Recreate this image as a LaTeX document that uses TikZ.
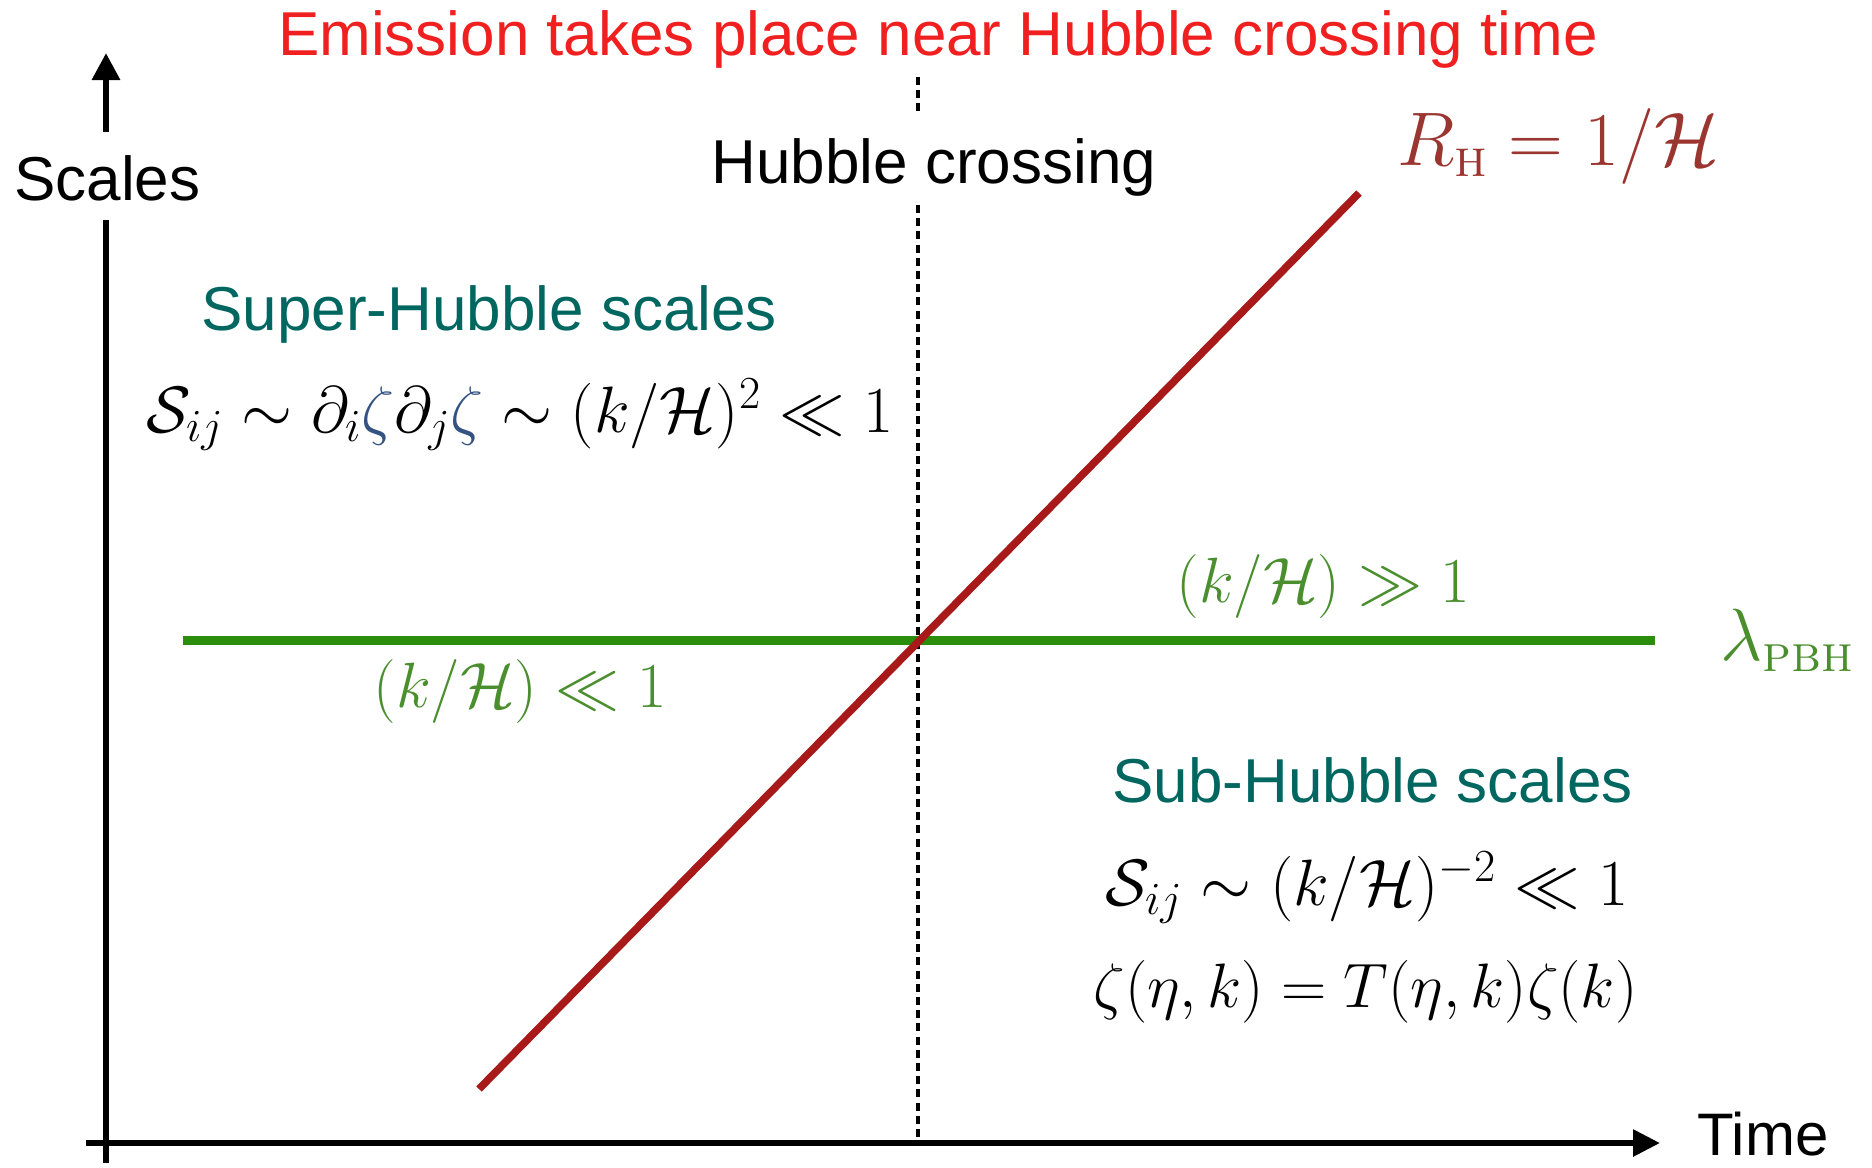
\RequirePackage{fix-cm}
\documentclass[tikz,border=0pt]{standalone}
\usepackage{amsmath}
\usepackage{fontspec}
\setsansfont{Liberation Sans}
\usetikzlibrary{arrows.meta}
\definecolor{titlered}{RGB}{240,32,32}
\definecolor{tealtxt}{RGB}{0,102,96}
\definecolor{rhred}{RGB}{155,53,48}
\definecolor{linered}{RGB}{168,26,26}
\definecolor{linegreen}{RGB}{42,142,12}
\definecolor{greentxt}{RGB}{74,142,46}
\definecolor{zetablue}{RGB}{52,82,130}
\begin{document}
\begin{tikzpicture}[x=0.5pt,y=-0.5pt,
  txt/.style={inner sep=0pt,anchor=base west},
  sans/.style={txt,font=\fontsize{31}{37}\selectfont\sffamily},
  mth/.style={txt,font=\fontsize{32}{38}\selectfont},
  axis/.style={line width=3.1pt},
  dotline/.style={line width=1.7pt,dash pattern=on 4pt off 2.6pt}]
\useasboundingbox (0,0) rectangle (1872,1167);
% coordinates
\coordinate (ytip) at (106,53);
\coordinate (ytop) at (106,132);
\coordinate (ybot1) at (106,220);
\coordinate (ybot2) at (106,1163);
\coordinate (xl) at (86,1143);
\coordinate (xr) at (1660,1143);
\coordinate (dt1) at (918,77);
\coordinate (db1) at (918,114);
\coordinate (dt2) at (918,205);
\coordinate (db2) at (918,1143);
\coordinate (rb) at (479,1089);
\coordinate (rt) at (1359,193);
\coordinate (gl) at (183,640);
\coordinate (gr) at (1655,640);
% axes
\draw[axis,-{Triangle[length=13.5pt,width=13.5pt]}] (ytop) -- (ytip);
\draw[axis] (ybot1) -- (ybot2);
\draw[axis,line width=2.9pt,-{Triangle[length=13.5pt,width=13pt]}] (xl) -- (xr);
% dotted
\draw[dotline] (dt1) -- (db1);
\draw[dotline] (dt2) -- (db2);
% lines
\draw[linegreen,line width=4.5pt] (gl) -- (gr);
\draw[linered,line width=3.8pt] (rb) -- (rt);
% texts
\node[sans,anchor=base,text=titlered] (title) at (938,55) {Emission takes place near Hubble crossing time};
\node[sans] (scales) at (14,200) {Scales};
\node[sans,anchor=base] (hc) at (934,183) {Hubble crossing};
\node[sans,font=\fontsize{30}{36}\selectfont\sffamily] (time) at (1697,1155) {Time};
\node[sans,text=tealtxt] (super) at (201,330) {Super-Hubble scales};
\node[sans,text=tealtxt] (sub) at (1112,802) {Sub-Hubble scales};
\node[mth,font=\fontsize{38}{44}\selectfont,text=rhred] (rh) at (1397,165) {$R_{\text{\textsc{h}}} = 1/\mathcal{H}$};
\node[mth,font=\fontsize{37}{44}\selectfont,text=greentxt] (lam) at (1720,660) {$\lambda_{\text{\textsc{pbh}}}$};
\node[mth,text=greentxt] (gg) at (1176,602) {$(k/\mathcal{H})\gg 1$};
\node[mth,text=greentxt] (ll) at (373,707) {$(k/\mathcal{H})\ll 1$};
\node[mth,font=\fontsize{32.8}{38}\selectfont] (fsup) at (146,432) {$\mathcal{S}_{ij}\sim\partial_i{\color{zetablue}\zeta}\partial_j{\color{zetablue}\zeta}\sim(k/\mathcal{H})^2\ll 1$};
\node[mth,font=\fontsize{32.8}{38}\selectfont] (fsub) at (1105,905) {$\mathcal{S}_{ij}\sim(k/\mathcal{H})^{-2}\ll 1$};
\node[mth,font=\fontsize{31.4}{38}\selectfont] (fzeta) at (1093,1007) {$\zeta(\eta,k)=T(\eta,k)\zeta(k)$};
\end{tikzpicture}
\end{document}
